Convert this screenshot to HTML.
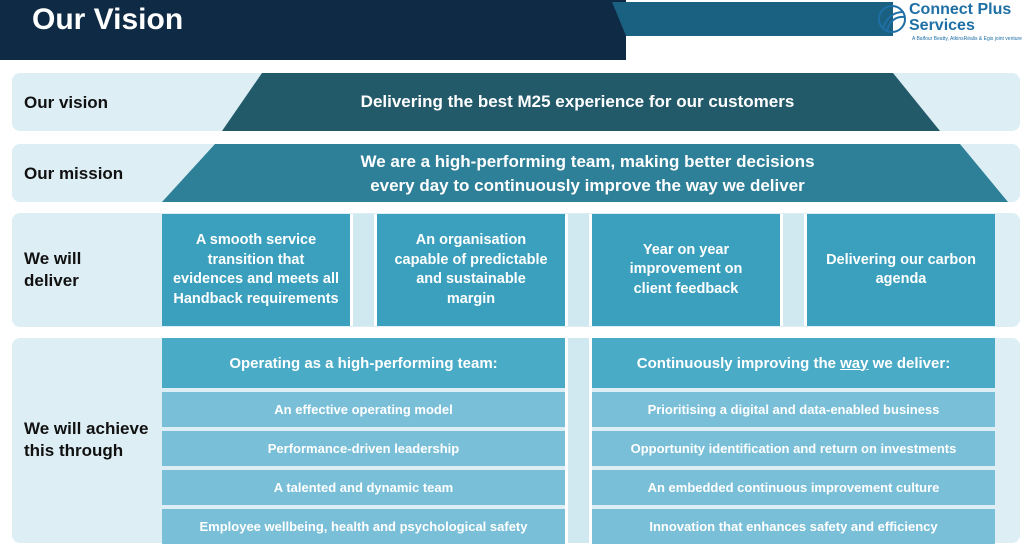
<!DOCTYPE html>
<html><head><style>
*{margin:0;padding:0;box-sizing:border-box}
body{width:1024px;height:548px;background:#fff;position:relative;overflow:hidden;font-family:"Liberation Sans",sans-serif}
.a{position:absolute}
.row{position:absolute;left:12px;width:1008px;background:#ddeef4;border-radius:8px}
.lab{position:absolute;left:24px;font-weight:bold;font-size:17px;color:#111;line-height:22px}
.b{position:absolute;display:flex;align-items:center;justify-content:center;text-align:center;color:#fff;font-weight:bold}
.d{background:#3aa0bd;font-size:14.5px;line-height:19.5px;top:214px;height:112px;width:188px;white-space:nowrap}
.h{background:#4aabc7;font-size:15px;top:338px;height:50px;width:403px}
.s{background:#79bfd8;font-size:13px;height:35px;width:403px}
</style></head><body>
<div class="a" style="left:0;top:0;width:626px;height:60px;background:#0f2a45"></div>
<div class="a" style="left:612px;top:2px;width:281px;height:34px;background:#1a6080;clip-path:polygon(0 0,100% 0,100% 100%,5% 100%)"></div>
<div class="a" style="left:32px;top:3px;color:#fff;font-size:30px;font-weight:bold">Our Vision</div>
<svg class="a" style="left:877px;top:4px" width="30" height="30"><circle cx="15" cy="15" r="13" fill="none" stroke="#1e6fa5" stroke-width="2"/><path d="M6 24 Q12 8 26 8 M10 26 Q15 12 27 13" stroke="#1e6fa5" stroke-width="2" fill="none"/></svg>
<div class="a" style="left:909px;top:2px;color:#1e6fa5;font-weight:bold;font-size:16px;line-height:16px">Connect Plus<br>Services</div>
<div class="a" style="left:912px;top:36px;color:#1e6fa5;font-size:5px">A Balfour Beatty, AtkinsRéalis &amp; Egis joint venture</div>

<div class="row" style="top:73px;height:58px"></div>
<div class="a" style="left:222px;top:73px;width:718px;height:58px;background:#235a6a;clip-path:polygon(40px 0,671px 0,100% 100%,0 100%)"></div>
<div class="lab" style="top:92px">Our vision</div>
<div class="b" style="left:262px;top:73px;width:631px;height:58px;font-size:17px">Delivering the best M25 experience for our customers</div>

<div class="row" style="top:144px;height:58px"></div>
<div class="a" style="left:162px;top:144px;width:846px;height:58px;background:#2e7f98;clip-path:polygon(53px 0,798px 0,100% 100%,0 100%)"></div>
<div class="lab" style="top:163px">Our mission</div>
<div class="b" style="left:215px;top:146px;width:745px;height:56px;font-size:17px;line-height:24px">We are a high-performing team, making better decisions<br>every day to continuously improve the way we deliver</div>

<div class="row" style="top:213px;height:114px"></div>
<div class="lab" style="top:248px">We will<br>deliver</div>
<div class="a" style="left:350px;top:214px;width:27px;height:112px;background:#d0e8f0;border-left:3px solid #fff;border-right:3px solid #fff"></div>
<div class="a" style="left:565px;top:214px;width:27px;height:112px;background:#d0e8f0;border-left:3px solid #fff;border-right:3px solid #fff"></div>
<div class="a" style="left:780px;top:214px;width:27px;height:112px;background:#d0e8f0;border-left:3px solid #fff;border-right:3px solid #fff"></div>
<div class="b d" style="left:162px">A smooth service<br>transition that<br>evidences and meets all<br>Handback requirements</div>
<div class="b d" style="left:377px">An organisation<br>capable of predictable<br>and sustainable<br>margin</div>
<div class="b d" style="left:592px">Year on year<br>improvement on<br>client feedback</div>
<div class="b d" style="left:807px">Delivering our carbon<br>agenda</div>

<div class="row" style="top:338px;height:205px"></div>
<div class="lab" style="top:418px">We will achieve<br>this through</div>
<div class="a" style="left:565px;top:338px;width:27px;height:205px;background:#d0e8f0;border-left:3px solid #fff;border-right:3px solid #fff"></div>
<div class="b h" style="left:162px">Operating as a high-performing team:</div>
<div class="b h" style="left:592px">Continuously improving the&nbsp;<u>way</u>&nbsp;we deliver:</div>
<div class="b s" style="left:162px;top:392px">An effective operating model</div>
<div class="b s" style="left:162px;top:431px">Performance-driven leadership</div>
<div class="b s" style="left:162px;top:470px">A talented and dynamic team</div>
<div class="b s" style="left:162px;top:509px">Employee wellbeing, health and psychological safety</div>
<div class="b s" style="left:592px;top:392px">Prioritising a digital and data-enabled business</div>
<div class="b s" style="left:592px;top:431px">Opportunity identification and return on investments</div>
<div class="b s" style="left:592px;top:470px">An embedded continuous improvement culture</div>
<div class="b s" style="left:592px;top:509px">Innovation that enhances safety and efficiency</div>
</body></html>
